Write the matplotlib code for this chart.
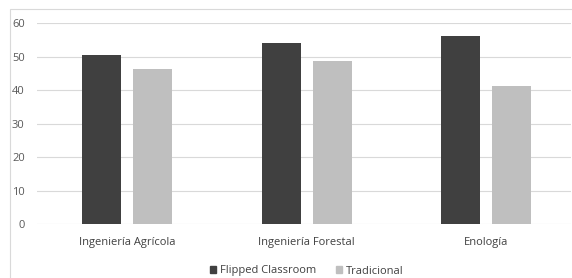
import matplotlib
matplotlib.use("Agg")
import matplotlib.pyplot as plt
from matplotlib.patches import Rectangle, Patch
import numpy as np

# Data
categories = ["Ingeniería Agrícola", "Ingeniería Forestal", "Enología"]
flipped = [50.5, 54.2, 56.2]
tradicional = [46.4, 48.7, 41.3]
series_names = ["Flipped Classroom", "Tradicional"]

DARK = "#404040"
LIGHT = "#bfbfbf"
TEXT = "#595959"

plt.rcParams["font.family"] = ["Open Sans", "DejaVu Sans"]

fig = plt.figure(figsize=(5.72, 2.78), dpi=100)
W, H = 572, 278

# outer chart border (partly cropped in the reference)
fig.patches.append(Rectangle((10 / W, -0.1), 2, 1 - 9 / H + 0.1,
                             transform=fig.transFigure, fill=False,
                             edgecolor="#d9d9d9", linewidth=0.8))

ax = fig.add_axes([37.25 / W, 1 - 224 / H, (571 - 37.25) / W, (224 - 23.3) / H])

x = np.arange(len(categories))
width = 0.217
offset = 0.142
ax.bar(x - offset, flipped, width, color=DARK, zorder=3)
ax.bar(x + offset, tradicional, width, color=LIGHT, zorder=3)

ax.set_xlim(-0.5, 2.473)
ax.set_ylim(0, 60)
ax.set_yticks(range(0, 61, 10))
ax.grid(axis="y", color="#d9d9d9", linewidth=0.8, zorder=0)
for s in ax.spines.values():
    s.set_visible(False)
ax.tick_params(length=0, colors=TEXT, labelsize=8)
ax.tick_params(axis="y", pad=9)
ax.tick_params(axis="x", pad=9)
ax.set_xticks(x)
ax.set_xticklabels(categories, color="#404040")

handles = [Patch(color=DARK), Patch(color=LIGHT)]
fig.legend(handles, series_names, loc="center", bbox_to_anchor=(307 / W, 1 - 271 / H),
           ncol=2, frameon=False, fontsize=8, handlelength=0.55, handleheight=0.55,
           handletextpad=0.35, columnspacing=1.8, labelcolor="#404040",
           borderpad=0, borderaxespad=0)

fig.savefig("out.png", dpi=100)
